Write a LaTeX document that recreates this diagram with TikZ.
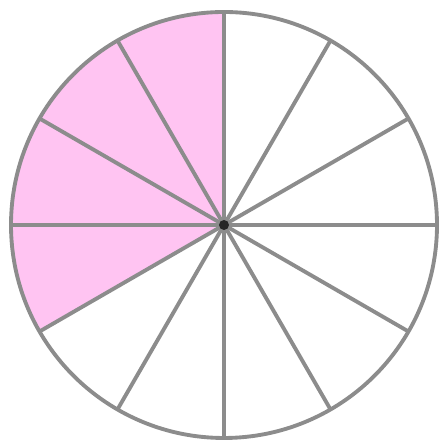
\documentclass[tikz,border=0pt]{standalone}
\usepackage{tikz,xcolor}
\usetikzlibrary{calc}
\definecolor{sectorpink}{HTML}{FFC4F2}
\definecolor{spokegray}{HTML}{8C8C8C}

\begin{document}
\begin{tikzpicture}
\useasboundingbox (0,0) rectangle (4.44,4.42);
\coordinate (O) at (2.24,2.17);
% Fill the four shaded twelfths
\fill[sectorpink] (O) -- ++(90:2.13) arc[start angle=90, end angle=210, radius=2.13] -- cycle;
% Draw the twelve spokes
\foreach \a in {0,30,...,330}
  \draw[spokegray, line width=1.1pt] (O) -- ($(O)+(\a:2.13)$);
% Draw the outer circle
\draw[spokegray, line width=1.1pt] (O) circle (2.13cm);
% Small dark dot at the centre
\fill[black!85] (O) circle (0.05cm);
\end{tikzpicture}
\end{document}
